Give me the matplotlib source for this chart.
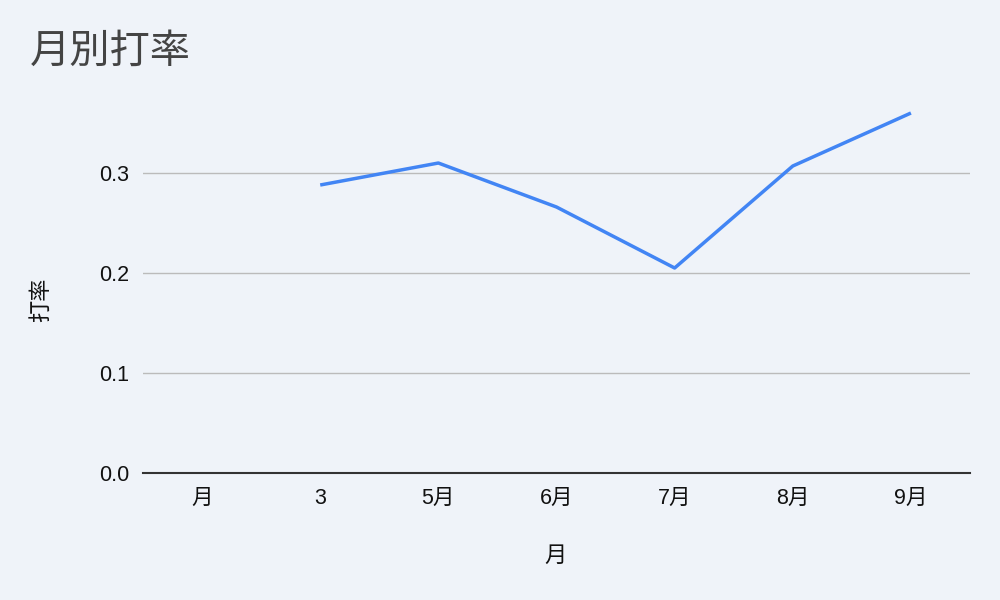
import numpy as np
import matplotlib
matplotlib.use('Agg')
from matplotlib import pyplot as plt

plt.rcParams['font.family'] = ['Liberation Sans', 'Noto Sans CJK JP', 'DejaVu Sans']

# data
months = ['月', '3', '5月', '6月', '7月', '8月', '9月']
batting_avg = [np.nan, 0.288, 0.310, 0.266, 0.205, 0.307, 0.360]
y_ticks = [0.0, 0.1, 0.2, 0.3]

BG = '#eff3f9'

fig = plt.figure(figsize=(10, 6), dpi=100, facecolor=BG)
ax = fig.add_axes([0.143, 0.2117, 0.827, 0.6166], facecolor=BG)

x = np.arange(len(months))
ax.plot(x, batting_avg, color='#4285f4', lw=2.5, solid_capstyle='butt')

ax.set_xlim(-0.5, len(months) - 0.5)
ax.set_ylim(0, 0.37)
ax.set_xticks(x)
ax.set_xticklabels(months)
ax.set_yticks(y_ticks)
ax.set_yticklabels([f'{v:.1f}' for v in y_ticks])

ax.grid(axis='y', color='#bbbbbb', lw=1.0)
ax.set_axisbelow(True)
for s in ['top', 'right', 'left']:
    ax.spines[s].set_visible(False)
ax.spines['bottom'].set_color('#333333')
ax.spines['bottom'].set_linewidth(1.5)
ax.spines['bottom'].set_zorder(3)

ax.tick_params(axis='both', length=0, labelsize=15.5, labelcolor='#111111')
ax.tick_params(axis='x', pad=11)
ax.tick_params(axis='y', pad=10)

fig.text(0.03, 0.913, '月別打率', fontsize=29, color='#444444', va='center', ha='left')
fig.text(0.042, 0.5, '打率', fontsize=16, color='#111111', rotation=90, va='center', ha='center')
fig.text(0.555, 0.073, '月', fontsize=16, color='#111111', va='center', ha='center')

fig.savefig('out.png', dpi=100, facecolor=BG)
